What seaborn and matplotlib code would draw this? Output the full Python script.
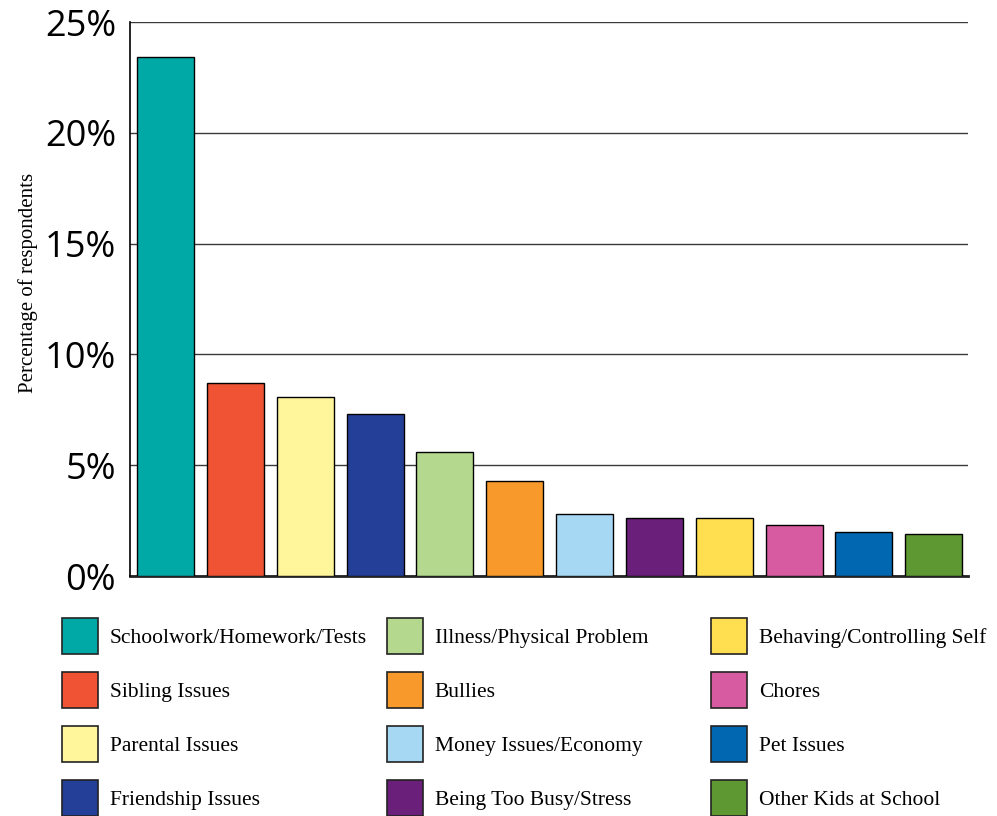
import numpy as np
import pandas as pd
import matplotlib
matplotlib.use("Agg")
import matplotlib.pyplot as plt
import seaborn as sns
from matplotlib.patches import Patch

categories = ["Schoolwork/Homework/Tests", "Sibling Issues", "Parental Issues",
              "Friendship Issues", "Illness/Physical Problem", "Bullies",
              "Money Issues/Economy", "Being Too Busy/Stress",
              "Behaving/Controlling Self", "Chores", "Pet Issues",
              "Other Kids at School"]
percent = [23.4, 8.7, 8.1, 7.3, 5.6, 4.3, 2.8, 2.6, 2.6, 2.3, 2.0, 1.9]
colors = ["#00A9A6", "#F05234", "#FFF59A", "#243F98", "#B4D88E", "#F79A2B",
          "#A7D8F3", "#6A207B", "#FFDF4F", "#D65BA0", "#0067B0", "#5D9833"]
yticks = [0, 5, 10, 15, 20, 25]

df = pd.DataFrame({"cat": categories, "pct": percent})

sns.set_style("white")
plt.rcParams["text.color"] = "black"
plt.rcParams["ytick.color"] = "black"
fig = plt.figure(figsize=(9.97, 8.16), dpi=100)
ax = fig.add_axes([130 / 997, 1 - 576 / 816, 838 / 997, 554 / 816])

sns.barplot(data=df, x="cat", y="pct", hue="cat", palette=colors,
            legend=False, width=0.817, edgecolor="black", linewidth=1,
            saturation=1, ax=ax, zorder=3)

ax.set_xlim(-0.51, 11.49)
ax.set_ylim(0, 25)
ax.set_yticks(yticks)
ax.set_yticklabels([f"{t}%" for t in yticks], fontsize=26, family="Open Sans",
                   color="black")
ax.tick_params(axis="y", length=0, pad=10)
ax.set_xticks([])
ax.set_xlabel("")
ax.set_ylabel("")
ax.yaxis.grid(True, color="#3a3a3a", linewidth=1)
ax.set_axisbelow(True)
for s in ["top", "right"]:
    ax.spines[s].set_visible(False)
ax.spines["left"].set_color("black")
ax.spines["left"].set_linewidth(1.2)
ax.spines["bottom"].set_color("#222222")
ax.spines["bottom"].set_linewidth(2)
ax.spines["left"].set_zorder(4)

fig.text(28 / 997, 1 - 283 / 816, "Percentage of respondents", rotation=90,
         ha="center", va="center", fontsize=15, family="Liberation Serif",
         color="black")

# legend: three fixed columns of four entries
fs = 15.5
fpx = fs * 100 / 72
hh = (36 / fpx - 0.245) / 0.65
ls = 18 / fpx
handles = [Patch(facecolor=c, edgecolor="#222222", linewidth=1.2) for c in colors]
col_x = [62, 387, 711]
for i, x in enumerate(col_x):
    fig.legend(handles[i * 4:(i + 1) * 4], categories[i * 4:(i + 1) * 4],
               loc="upper left", bbox_to_anchor=(x / 997, 1 - 618 / 816),
               frameon=False, borderpad=0, borderaxespad=0,
               handlelength=36 / fpx, handleheight=hh, handletextpad=0.55,
               labelspacing=ls, labelcolor="black",
               prop={"family": "Liberation Serif", "size": fs})

fig.savefig("out.png", dpi=100)
